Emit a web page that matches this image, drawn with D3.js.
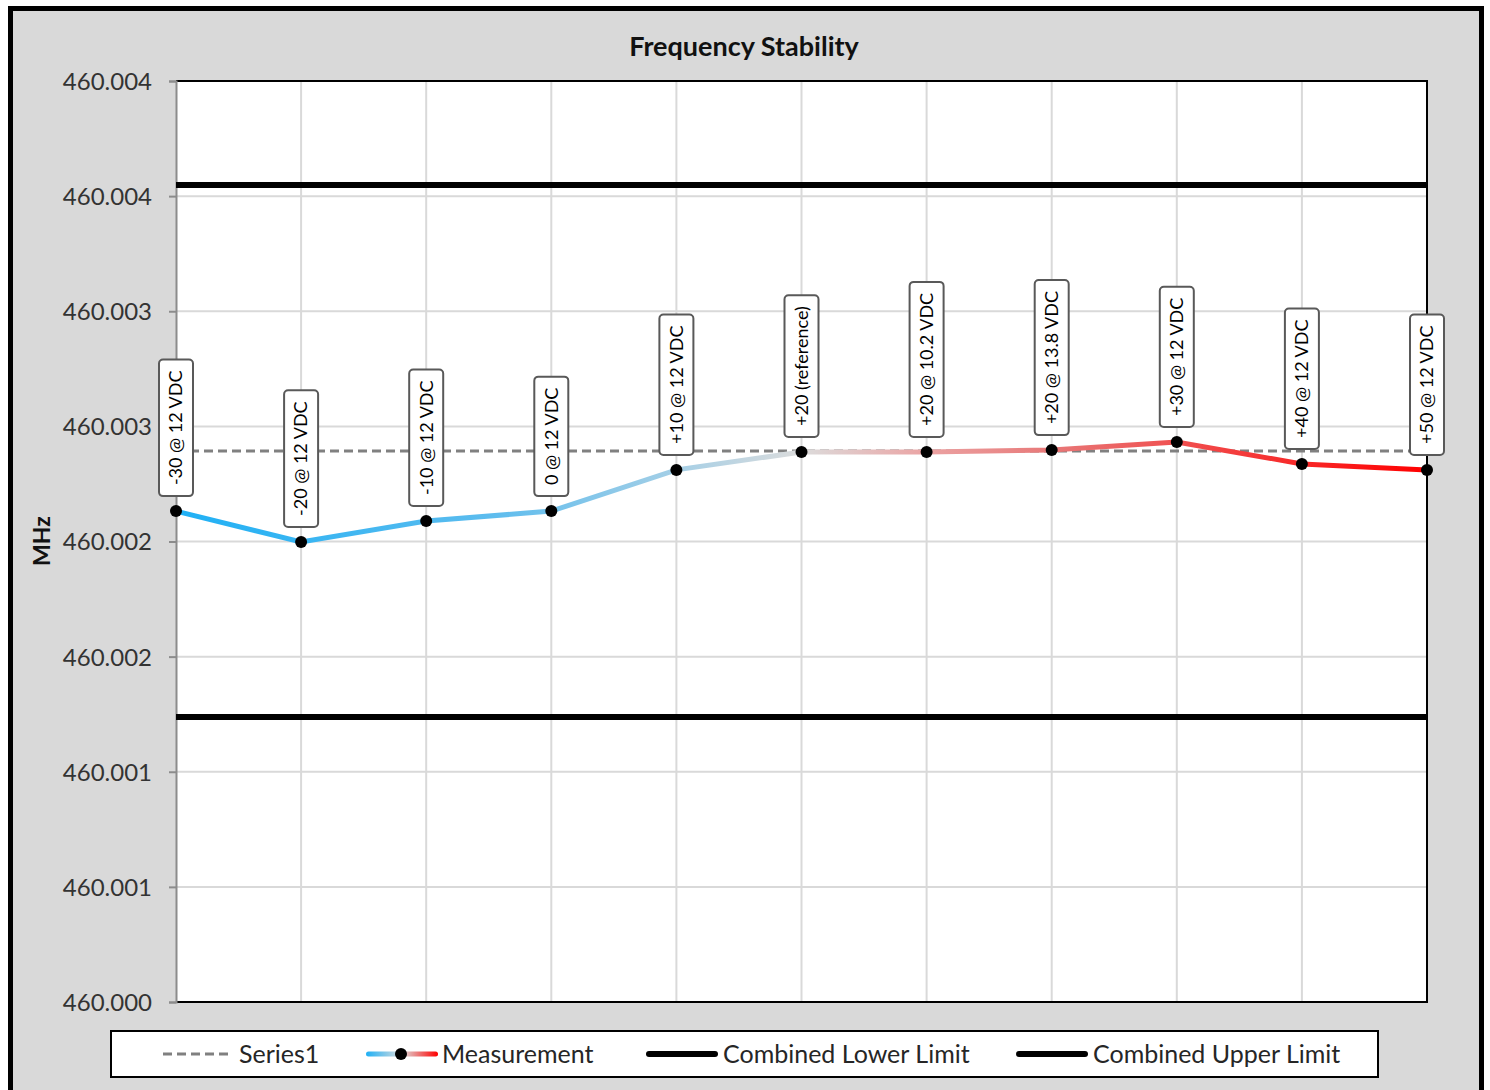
<!DOCTYPE html>
<meta charset="utf-8">
<style>
    body { margin: 0; background: #fff; }
    text { font-family: Lato, "Open Sans", sans-serif; fill: #262626; }
    .grid line { stroke: #d9d9d9; stroke-width: 2px; }
    .tick text { font-size: 24px; fill: #333; }
    .ptlabel text { font-size: 18px; fill: #000; }
    .legend text { font-size: 25px; fill: #262626; }
</style>
<body>
<script src="https://d3js.org/d3.v7.min.js"></script>
<script>

    // chart data
    var conditions = ["-30 @ 12 VDC", "-20 @ 12 VDC", "-10 @ 12 VDC", "0 @ 12 VDC", "+10 @ 12 VDC",
        "+20 (reference)", "+20 @ 10.2 VDC", "+20 @ 13.8 VDC", "+30 @ 12 VDC", "+40 @ 12 VDC", "+50 @ 12 VDC"];
    var measurement = [460.002132, 460.001998, 460.002089, 460.002132, 460.002311,
        460.002389, 460.002389, 460.002397, 460.002432, 460.002337, 460.002311];
    var series1 = 460.002393;          // reference (dashed)
    var lowerLimit = 460.001238;
    var upperLimit = 460.003548;
    var yTicks = [460.0000, 460.0005, 460.0010, 460.0015, 460.0020, 460.0025, 460.0030, 460.0035, 460.0040];
    var yTickLabels = ["460.000", "460.001", "460.001", "460.002", "460.002", "460.003", "460.003", "460.004", "460.004"];
    var legendNames = ["Series1", "Measurement", "Combined Lower Limit", "Combined Upper Limit"];

    var W = 1490, H = 1090;
    var plot = {left: 176, top: 81, right: 1427, bottom: 1002};

    var svg = d3.select("body").append("svg")
        .attr("width", W)
        .attr("height", H);

    // outer chart background + border
    svg.append("rect")
        .attr("x", 10.5).attr("y", 8.5)
        .attr("width", 1471).attr("height", 1100)
        .attr("fill", "#d9d9d9")
        .attr("stroke", "#000")
        .attr("stroke-width", 5);

    var x = d3.scalePoint()
        .domain(d3.range(conditions.length))
        .range([plot.left, plot.right]);

    var y = d3.scaleLinear()
        .domain([460.000, 460.004])
        .range([plot.bottom, plot.top]);

    svg.append("rect")
        .attr("x", plot.left).attr("y", plot.top)
        .attr("width", plot.right - plot.left)
        .attr("height", plot.bottom - plot.top)
        .attr("fill", "#fff");

    // gridlines
    var grid = svg.append("g").attr("class", "grid");
    grid.selectAll(".hg").data(yTicks).enter().append("line")
        .attr("x1", plot.left).attr("x2", plot.right)
        .attr("y1", function(d) { return y(d); })
        .attr("y2", function(d) { return y(d); });
    grid.selectAll(".vg").data(d3.range(conditions.length)).enter().append("line")
        .attr("x1", function(d) { return x(d); })
        .attr("x2", function(d) { return x(d); })
        .attr("y1", plot.top).attr("y2", plot.bottom);

    // plot border (top/right/bottom dark)
    svg.append("path")
        .attr("d", "M" + plot.left + "," + plot.top + "H" + plot.right + "V" + plot.bottom + "H" + plot.left)
        .attr("fill", "none")
        .attr("stroke", "#000")
        .attr("stroke-width", 2);

    // y axis
    var yAxis = d3.axisLeft(y)
        .tickValues(yTicks)
        .tickFormat(function(d, i) { return yTickLabels[i]; })
        .tickSize(7)
        .tickPadding(17);
    var ax = svg.append("g")
        .attr("transform", "translate(" + plot.left + ",0)")
        .call(yAxis);
    ax.select(".domain").attr("stroke", "#8c8c8c").attr("stroke-width", 2);
    ax.selectAll(".tick line").attr("stroke", "#8c8c8c").attr("stroke-width", 2);
    ax.selectAll(".tick text").attr("dy", "0.35em");

    // limits
    [lowerLimit, upperLimit].forEach(function(v) {
        svg.append("line")
            .attr("x1", plot.left).attr("x2", plot.right)
            .attr("y1", y(v)).attr("y2", y(v))
            .attr("stroke", "#000")
            .attr("stroke-width", 6);
    });

    // series1 dashed reference
    svg.append("line")
        .attr("x1", plot.left).attr("x2", plot.right)
        .attr("y1", y(series1)).attr("y2", y(series1))
        .attr("stroke", "#808080")
        .attr("stroke-width", 3)
        .attr("stroke-dasharray", "9,5");

    // gradient for the measurement line
    var defs = svg.append("defs");
    var grad = defs.append("linearGradient")
        .attr("id", "measGrad")
        .attr("gradientUnits", "userSpaceOnUse")
        .attr("x1", plot.left).attr("x2", plot.right)
        .attr("y1", 0).attr("y2", 0);
    var stops = [[0, "#1fb0f5"], [0.25, "#5cbcee"], [0.4, "#a5cfe6"], [0.5, "#dcdcdc"],
        [0.6, "#eba3a3"], [0.7, "#e87878"], [0.8, "#f05050"], [1, "#ff0000"]];
    grad.selectAll("stop").data(stops).enter().append("stop")
        .attr("offset", function(d) { return d[0]; })
        .attr("stop-color", function(d) { return d[1]; });

    var lg = defs.append("linearGradient").attr("id", "legGrad");
    lg.append("stop").attr("offset", 0).attr("stop-color", "#1fb0f5");
    lg.append("stop").attr("offset", 0.5).attr("stop-color", "#dcdcdc");
    lg.append("stop").attr("offset", 1).attr("stop-color", "#ff0000");

    var line = d3.line()
        .x(function(d, i) { return x(i); })
        .y(function(d) { return y(d); });

    svg.append("path")
        .datum(measurement)
        .attr("d", line)
        .attr("fill", "none")
        .attr("stroke", "url(#measGrad)")
        .attr("stroke-width", 5);

    svg.selectAll(".pt").data(measurement).enter().append("circle")
        .attr("cx", function(d, i) { return x(i); })
        .attr("cy", function(d) { return y(d); })
        .attr("r", 6)
        .attr("fill", "#000");

    // rotated data labels in rounded boxes
    var lab = svg.selectAll(".ptlabel").data(measurement).enter().append("g")
        .attr("class", "ptlabel")
        .attr("transform", function(d, i) {
            return "translate(" + x(i) + "," + (y(d) - 15) + ") rotate(-90)";
        });
    lab.append("text")
        .attr("x", 11)
        .attr("y", 0)
        .attr("dy", "0.35em")
        .text(function(d, i) { return conditions[i]; });
    lab.each(function() {
        var g = d3.select(this);
        var bb = g.select("text").node().getBBox();
        g.insert("rect", "text")
            .attr("x", 0).attr("y", -17)
            .attr("width", bb.width + 22).attr("height", 34)
            .attr("rx", 4)
            .attr("fill", "#fff")
            .attr("stroke", "#595959")
            .attr("stroke-width", 2);
    });

    // titles
    svg.append("text")
        .attr("x", 744).attr("y", 56)
        .attr("text-anchor", "middle")
        .style("font-size", "27px").style("font-weight", "bold")
        .style("fill", "#111")
        .text("Frequency Stability");
    svg.append("text")
        .attr("transform", "translate(50,541) rotate(-90)")
        .attr("text-anchor", "middle")
        .style("font-size", "23px").style("font-weight", "bold")
        .style("fill", "#111")
        .text("MHz");

    // legend
    var leg = svg.append("g").attr("class", "legend");
    leg.append("rect")
        .attr("x", 111).attr("y", 1031)
        .attr("width", 1267).attr("height", 46)
        .attr("fill", "#fff")
        .attr("stroke", "#000")
        .attr("stroke-width", 2);
    var legX = [163, 366, 647, 1017];
    var ly = 1054;
    var items = leg.selectAll(".item").data(legendNames).enter().append("g")
        .attr("transform", function(d, i) { return "translate(" + legX[i] + "," + ly + ")"; });
    items.each(function(d, i) {
        var g = d3.select(this);
        if (i === 0) {
            g.append("line").attr("x1", 0).attr("x2", 70)
                .attr("stroke", "#808080").attr("stroke-width", 3)
                .attr("stroke-dasharray", "9,5");
        } else if (i === 1) {
            g.append("rect").attr("x", 0).attr("y", -2.5).attr("width", 72).attr("height", 5)
                .attr("rx", 2.5).attr("fill", "url(#legGrad)");
            g.append("circle").attr("cx", 35).attr("r", 6).attr("fill", "#000");
        } else {
            g.append("line").attr("x1", 2).attr("x2", 68)
                .attr("stroke", "#000").attr("stroke-width", 6)
                .attr("stroke-linecap", "round");
        }
        g.append("text").attr("x", 76).attr("dy", "0.35em").text(d);
    });

</script>
</body>
